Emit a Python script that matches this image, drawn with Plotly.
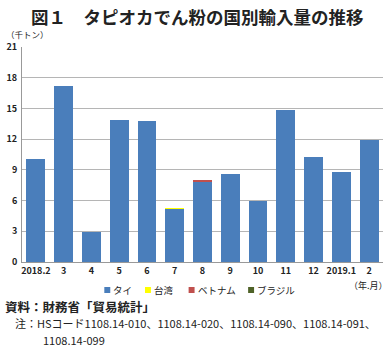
import plotly.graph_objects as go

months = ["2018.2", "3", "4", "5", "6", "7", "8", "9", "10", "11", "12", "2019.1", "2"]
thai = [10.1, 17.2, 2.9, 13.9, 13.8, 5.2, 7.8, 8.6, 6.0, 14.8, 10.3, 8.8, 11.9]
taiwan = [None, None, None, None, None, 0.04, None, None, None, None, None, None, None]
vietnam = [None, None, None, None, None, None, 0.2, None, None, None, None, None, None]
brazil = [None] * 13
yticks = [0, 3, 6, 9, 12, 15, 18, 21]

FONT = "Noto Sans CJK JP"
W, H = 390, 354
ML, MR, MT, MB = 19, 7, 47, 92
fig = go.Figure()
series = [("タイ", thai, "#4a7ebb"), ("台湾", taiwan, "#ffff00"),
          ("ベトナム", vietnam, "#c0504d"), ("ブラジル", brazil, "#4f6228")]
for name, vals, col in series:
    fig.add_trace(go.Bar(x=months, y=vals, name=name, showlegend=False,
                         marker=dict(color=col, line=dict(width=0))))

fig.update_layout(
    barmode="stack", bargap=0.32,
    width=W, height=H,
    margin=dict(l=ML, r=MR, t=MT, b=MB),
    plot_bgcolor="white", paper_bgcolor="white",
    font=dict(family=FONT, color="#222", size=9),
    showlegend=False,
    xaxis=dict(type="category", showline=True, linecolor="#999", linewidth=1,
               tickfont=dict(size=9, family=FONT, color="#222", weight="bold"),
               ticks="", tickangle=0),
    yaxis=dict(range=[0, 21], tickvals=yticks, showgrid=True, gridcolor="#b5b5b5",
               gridwidth=1, showline=True, linecolor="#999", zeroline=False,
               tickfont=dict(size=9, family=FONT, color="#222", weight="bold"),
               ticks="", ticklabelstandoff=2),
)

pw = W - ML - MR
ph = H - MT - MB
def px(x):
    return (x - ML) / pw
def py(y):
    return (H - MB - y) / ph

leg_y = 290
leg_items = [(102, series[0]), (143, series[1]), (187, series[2]), (247, series[3])]
for x0, (name, _, col) in leg_items:
    fig.add_shape(type="rect", xref="paper", yref="paper",
                  x0=px(x0), x1=px(x0 + 6), y0=py(leg_y + 3), y1=py(leg_y - 3),
                  fillcolor=col, line=dict(width=0))
    fig.add_annotation(text=name, xref="paper", yref="paper", x=px(x0 + 7), y=py(leg_y),
                       xanchor="left", yanchor="middle", showarrow=False,
                       font=dict(size=9.5, family=FONT, color="#222"))

fig.add_annotation(text="<b>図１　タピオカでん粉の国別輸入量の推移</b>", xref="paper", yref="paper",
                   x=px(196), y=py(17), xanchor="center", yanchor="middle",
                   showarrow=False, font=dict(size=17.5, family=FONT, color="#222"))
fig.add_annotation(text="（千トン）", xref="paper", yref="paper", x=px(1), y=py(34),
                   xanchor="left", yanchor="middle", showarrow=False,
                   font=dict(size=8.5, family=FONT))
fig.add_annotation(text="（年.月）", xref="paper", yref="paper", x=px(390), y=py(285),
                   xanchor="right", yanchor="middle", showarrow=False,
                   font=dict(size=9, family=FONT))
fig.add_annotation(text="<b>資料：財務省「貿易統計」</b>", xref="paper", yref="paper",
                   x=px(0), y=py(306), xanchor="left", yanchor="middle", showarrow=False,
                   font=dict(size=12.5, family=FONT))
fig.add_annotation(text="注：HSコード1108.14-010、1108.14-020、1108.14-090、1108.14-091、",
                   xref="paper", yref="paper", x=px(10), y=py(323),
                   xanchor="left", yanchor="middle", showarrow=False,
                   font=dict(size=11, family=FONT))
fig.add_annotation(text="1108.14-099",
                   xref="paper", yref="paper", x=px(38), y=py(340),
                   xanchor="left", yanchor="middle", showarrow=False,
                   font=dict(size=11, family=FONT))
fig.write_html("out.html")
